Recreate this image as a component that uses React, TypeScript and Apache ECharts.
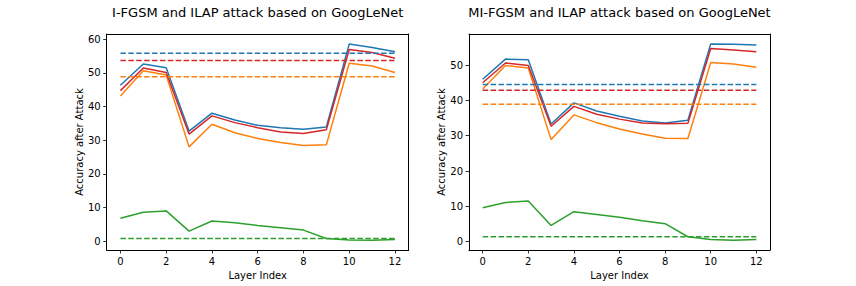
import React, { useEffect, useRef } from "react";
import * as echarts from "echarts";

const layers = [0, 1, 2, 3, 4, 5, 6, 7, 8, 9, 10, 11, 12];
const xTicks = [0, 2, 4, 6, 8, 10, 12];
const leftYTicks = [0, 10, 20, 30, 40, 50, 60];
const rightYTicks = [0, 10, 20, 30, 40, 50];

const titles = [
  "I-FGSM and ILAP attack based on GoogLeNet",
  "MI-FGSM and ILAP attack based on GoogLeNet",
];

// Left panel (I-FGSM)
const leftBlue = [46.3, 52.6, 51.5, 32.7, 38.0, 36.0, 34.4, 33.7, 33.2, 33.9, 58.5, 57.5, 56.2];
const leftOrange = [43.1, 50.6, 49.3, 28.0, 34.7, 32.2, 30.5, 29.3, 28.4, 28.6, 52.8, 52.0, 50.1];
const leftGreen = [6.8, 8.6, 9.0, 3.0, 6.0, 5.5, 4.7, 4.0, 3.3, 0.8, 0.4, 0.3, 0.5];
const leftRed = [44.7, 51.4, 50.1, 31.8, 37.2, 35.2, 33.7, 32.4, 32.0, 33.1, 56.9, 56.0, 54.3];
const leftBaselines = [55.8, 48.8, 0.8, 53.6]; // blue, orange, green, red

// Right panel (MI-FGSM)
const rightBlue = [46.0, 51.7, 51.5, 33.3, 39.3, 37.0, 35.5, 34.2, 33.6, 34.4, 56.0, 55.9, 55.7];
const rightOrange = [43.2, 49.9, 49.2, 28.9, 35.9, 33.7, 31.9, 30.5, 29.3, 29.2, 50.7, 50.3, 49.4];
const rightGreen = [9.6, 11.1, 11.5, 4.6, 8.5, 7.7, 6.9, 5.9, 5.1, 1.4, 0.6, 0.4, 0.6];
const rightRed = [45.0, 50.6, 49.9, 32.7, 38.3, 36.1, 34.7, 33.6, 33.4, 33.5, 54.7, 54.3, 53.8];
const rightBaselines = [44.5, 38.9, 1.4, 42.9];

const colors = ["#1f77b4", "#ff7f0e", "#2ca02c", "#d62728"];
const FONT = "DejaVu Sans";

export default function App() {
  const ref = useRef<HTMLDivElement>(null);
  useEffect(() => {
    if (!ref.current) return;
    const chart = echarts.init(ref.current, null, { renderer: "svg" });

    const grids = [
      { left: 106.7, right: 856 - 408.7, top: 34, bottom: 36 },
      { left: 469, right: 856 - 770, top: 34, bottom: 36 },
    ];
    const yRanges = [
      { min: -2.6, max: 61.5, ticks: leftYTicks },
      { min: -2.35, max: 58.8, ticks: rightYTicks },
    ];

    const lineStyleAxis = { color: "#000", width: 1 };
    const tickStyle = { show: true, inside: false, length: 3.5, lineStyle: { color: "#000", width: 0.8 } };
    const labelStyle = { color: "#000", fontSize: 10, fontFamily: FONT };
    const nameStyle = { color: "#000", fontSize: 10, fontFamily: FONT };

    const xAxis: any[] = [];
    const yAxis: any[] = [];
    grids.forEach((_, i) => {
      xAxis.push({
        type: "value",
        gridIndex: i,
        position: "bottom",
        min: -0.6,
        max: 12.6,
        name: "Layer Index",
        nameLocation: "middle",
        nameGap: 17,
        nameTextStyle: nameStyle,
        axisLine: { show: true, onZero: false, lineStyle: lineStyleAxis },
        splitLine: { show: false },
        axisTick: { ...tickStyle, customValues: xTicks },
        axisLabel: { ...labelStyle, margin: 6, customValues: xTicks },
      });
      yAxis.push({
        type: "value",
        gridIndex: i,
        position: "left",
        min: yRanges[i].min,
        max: yRanges[i].max,
        name: "Accuracy after Attack",
        nameLocation: "middle",
        nameGap: 21,
        nameRotate: 90,
        nameTextStyle: nameStyle,
        axisLine: { show: true, onZero: false, lineStyle: lineStyleAxis },
        splitLine: { show: false },
        axisTick: { ...tickStyle, customValues: yRanges[i].ticks },
        axisLabel: { ...labelStyle, margin: 6, customValues: yRanges[i].ticks },
      });
    });
    // frame: top and right spines
    grids.forEach((_, i) => {
      xAxis.push({
        type: "value",
        gridIndex: i,
        position: "top",
        min: -0.6,
        max: 12.6,
        axisLine: { show: true, onZero: false, lineStyle: lineStyleAxis },
        axisTick: { show: false },
        axisLabel: { show: false },
        splitLine: { show: false },
      });
      yAxis.push({
        type: "value",
        gridIndex: i,
        position: "right",
        min: yRanges[i].min,
        max: yRanges[i].max,
        axisLine: { show: true, onZero: false, lineStyle: lineStyleAxis },
        axisTick: { show: false },
        axisLabel: { show: false },
        splitLine: { show: false },
      });
    });

    const panels = [
      { lines: [leftBlue, leftOrange, leftGreen, leftRed], base: leftBaselines },
      { lines: [rightBlue, rightOrange, rightGreen, rightRed], base: rightBaselines },
    ];

    const series: any[] = [];
    panels.forEach((p, gi) => {
      p.lines.forEach((vals, k) => {
        series.push({
          type: "line",
          xAxisIndex: gi,
          yAxisIndex: gi,
          data: layers.map((x, j) => [x, vals[j]]),
          showSymbol: false,
          symbol: "none",
          lineStyle: { color: colors[k], width: 1.5 },
          z: 2,
        });
      });
      p.base.forEach((v, k) => {
        series.push({
          type: "line",
          xAxisIndex: gi,
          yAxisIndex: gi,
          data: [
            [layers[0], v],
            [layers[layers.length - 1], v],
          ],
          showSymbol: false,
          symbol: "none",
          lineStyle: { color: colors[k], width: 1.5, type: [5.5, 2.4] },
          z: 3,
        });
      });
    });

    chart.setOption({
      animation: false,
      backgroundColor: "#fff",
      title: grids.map((g, i) => ({
        text: titles[i],
        left: (g.left + (856 - g.right)) / 2,
        textAlign: "center",
        top: 6,
        padding: 0,
        textStyle: { color: "#000", fontSize: 13, fontWeight: "normal", fontFamily: FONT },
      })),
      grid: grids,
      xAxis,
      yAxis,
      series,
    });
    return () => chart.dispose();
  }, []);
  return (
    <div
      ref={ref}
      style={{ position: "absolute", left: 0, top: 0, width: 856, height: 286 }}
    />
  );
}
